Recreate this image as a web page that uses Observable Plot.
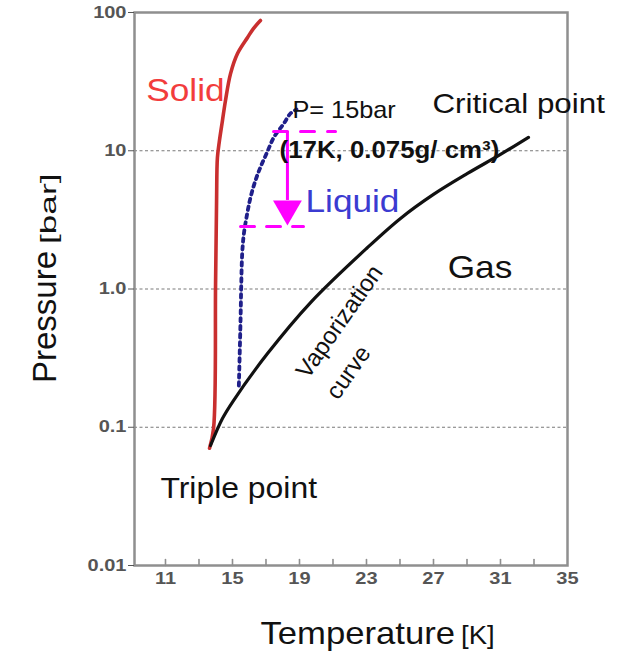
<!DOCTYPE html>
<html>
<head>
<meta charset="utf-8">
<script src="https://cdn.jsdelivr.net/npm/d3@7"></script>
<script src="https://cdn.jsdelivr.net/npm/@observablehq/plot@0.6"></script>
<style>
  body { margin: 0; background: #fff; }
  svg { display: block; }
</style>
</head>
<body>
<div id="chart"></div>
<script>
// ---- Data (Temperature in K, Pressure in bar) ----
const solidT = [13.63, 13.87, 13.99, 14.05, 14.10, 14.22, 14.40, 14.58, 14.88, 15.30, 15.90, 16.25, 16.67];
const solidP = [0.0705, 0.098, 1.09, 4.34, 8.9, 11.8, 16.5, 23, 36, 50.5, 66, 76.5, 87.5];

const vapT = [13.69, 14.40, 15.06, 17.09, 19.66, 23.06, 25.03, 27.0, 29.03, 31.0, 32.67];
const vapP = [0.0738, 0.1156, 0.156, 0.341, 0.798, 1.995, 3.24, 4.83, 6.85, 9.4, 12.5];

const liqT = [15.38, 15.48, 15.52, 15.58, 15.68, 15.88, 16.08, 16.37, 16.67, 17.07, 17.47, 18.06, 18.46, 18.82];
const liqP = [0.2, 0.59, 1.03, 1.81, 2.51, 3.52, 4.61, 6.09, 7.6, 9.77, 12.5, 15.7, 18.6, 19.9];

// magenta isobar annotation
const upperT = [17.45, 21.15];
const upperP = [13.8, 13.8];
const lowerT = [15.48, 19.24];
const lowerP = [2.83, 2.83];
const arrowT = [18.28];
const arrowP1 = [13.8];
const arrowP2 = [4.37];
const arrowHeadP = [3.80];

// ticks
const yTicks = [100, 10, 1, 0.1, 0.01];
const yTickLabels = ["100", "10", "1.0", "0.1", "0.01"];
const xMinorTicks = [11, 13, 15, 17, 19, 21, 23, 25, 27, 29, 31, 33];
const xMajorTicks = [11, 15, 19, 23, 27, 31, 35];
const gridP = [10, 1, 0.1];

// text annotations (anchor in data coordinates)
const solidLabel = {text: "Solid", T: 12.19, P: 27.3};
const pLabel = {text: "P= 15bar", T: 18.58, P: 19.5};
const stateLabel = {text: "(17K, 0.075g/ cm³)", T: 17.81, P: 10.0};
const critLabel = {text: "Critical point", T: 26.94, P: 22.0};
const liquidLabel = {text: "Liquid", T: 19.36, P: 4.25};
const gasLabel = {text: "Gas", T: 27.85, P: 1.43};
const tripleLabel = {text: "Triple point", T: 10.70, P: 0.036};
const vapLabel1 = {text: "Vaporization", T: 21.39, P: 0.58};
const vapLabel2 = {text: "curve", T: 21.93, P: 0.249};

const idx = a => a.map((_, i) => i);
const lbl = (o, opts) => Plot.text([o], {x: "T", y: "P", text: "text", ...opts});
const tickLine = {draw(context, l) { context.moveTo(0, 0); context.lineTo(0, -l); }};

const chart = Plot.plot({
  width: 624,
  height: 653,
  marginLeft: 134,
  marginRight: 57,
  marginTop: 12,
  marginBottom: 88,
  style: {fontFamily: "'Liberation Sans', Arial, sans-serif", background: "#fff", overflow: "visible"},
  x: {domain: [9.15, 35]},
  y: {type: "log", domain: [0.01, 100]},
  marks: [
    // grid
    Plot.ruleY(gridP, {stroke: "#7a7a7a", strokeWidth: 1.2, strokeDasharray: "3,2.5"}),
    // frame
    Plot.frame({stroke: "#8f8f8f", strokeWidth: 2.5}),
    // axes
    Plot.axisX({ticks: xMajorTicks, tickSize: 0, tickPadding: 7, label: null, fontSize: 16, fontWeight: "bold", color: "#555"}),
    Plot.vector(xMinorTicks, {x: d => d, y: 0.01, length: 6, rotate: 0, anchor: "start", shape: tickLine, stroke: "#8f8f8f", strokeWidth: 1.6}),
    Plot.axisY({ticks: yTicks, tickFormat: d => yTickLabels[yTicks.indexOf(d)], tickSize: 6, tickPadding: 2, label: null, fontSize: 16, fontWeight: "bold", color: "#555"}),
    // curves
    Plot.line(idx(solidT), {x: i => solidT[i], y: i => solidP[i], stroke: "#c92f2f", strokeWidth: 3.6, curve: "catmull-rom"}),
    Plot.line(idx(vapT), {x: i => vapT[i], y: i => vapP[i], stroke: "#111", strokeWidth: 3.2, curve: "catmull-rom"}),
    Plot.line(idx(liqT), {x: i => liqT[i], y: i => liqP[i], stroke: "#1f1f8a", strokeWidth: 3.8, strokeDasharray: "3.5,4.5", curve: "catmull-rom"}),
    // magenta annotation
    Plot.line(idx(upperT), {x: i => upperT[i], y: i => upperP[i], stroke: "#ff00ff", strokeWidth: 3, strokeDasharray: "14,13"}),
    Plot.line(idx(lowerT), {x: i => lowerT[i], y: i => lowerP[i], stroke: "#ff00ff", strokeWidth: 3, strokeDasharray: "14,12"}),
    Plot.ruleX(idx(arrowT), {x: i => arrowT[i], y1: i => arrowP1[i], y2: i => arrowP2[i], stroke: "#ff00ff", strokeWidth: 3}),
    Plot.dot(idx(arrowT), {x: i => arrowT[i], y: i => arrowHeadP[i], symbol: "triangle", r: 10.7, rotate: 180, fill: "#ff00ff", stroke: "none"}),
    // labels
    lbl(solidLabel, {fill: "#f23c3c", fontSize: 32, textAnchor: "middle"}),
    lbl(pLabel, {fill: "#111", fontSize: 23, textAnchor: "start"}),
    lbl(stateLabel, {fill: "#111", fontSize: 23.5, fontWeight: "bold", textAnchor: "start"}),
    lbl(critLabel, {fill: "#111", fontSize: 28.5, textAnchor: "start"}),
    lbl(liquidLabel, {fill: "#3b3bd1", fontSize: 32, textAnchor: "start"}),
    lbl(gasLabel, {fill: "#111", fontSize: 32, textAnchor: "start"}),
    lbl(tripleLabel, {fill: "#111", fontSize: 29, textAnchor: "start"}),
    lbl(vapLabel1, {fill: "#111", fontSize: 24, rotate: -55, textAnchor: "middle"}),
    lbl(vapLabel2, {fill: "#111", fontSize: 24, rotate: -55, textAnchor: "middle"}),
    // axis titles
    Plot.text(["Temperature"], {frameAnchor: "bottom", dx: 104, dy: 78, textAnchor: "end", lineAnchor: "bottom", fontSize: 31.5, fill: "#111"}),
    Plot.text(["[K]"], {frameAnchor: "bottom", dx: 110, dy: 78, textAnchor: "start", lineAnchor: "bottom", fontSize: 25, fill: "#111"}),
    Plot.text(["Pressure"], {frameAnchor: "left", dx: -79, dy: -38, rotate: -90, textAnchor: "end", lineAnchor: "bottom", fontSize: 33, fill: "#111"}),
    Plot.text(["[bar]"], {frameAnchor: "left", dx: -79, dy: -45, rotate: -90, textAnchor: "start", lineAnchor: "bottom", fontSize: 22, fill: "#111"})
  ]
});

// The reference picture is horizontally stretched: widen text glyphs around their anchors.
d3.select(chart).selectAll("text").each(function () {
  const t = this.getAttribute("transform") || "";
  if (this.textContent === "[bar]") {
    this.setAttribute("transform", t + " scale(1.6,1)");
  } else if (!/rotate/.test(t)) {
    const isTick = this.closest("g[aria-label$='tick label']");
    this.setAttribute("transform", t + (isTick ? " scale(1.25,1)" : " scale(1.1,1)"));
  }
});

document.getElementById("chart").appendChild(chart);
</script>
</body>
</html>
